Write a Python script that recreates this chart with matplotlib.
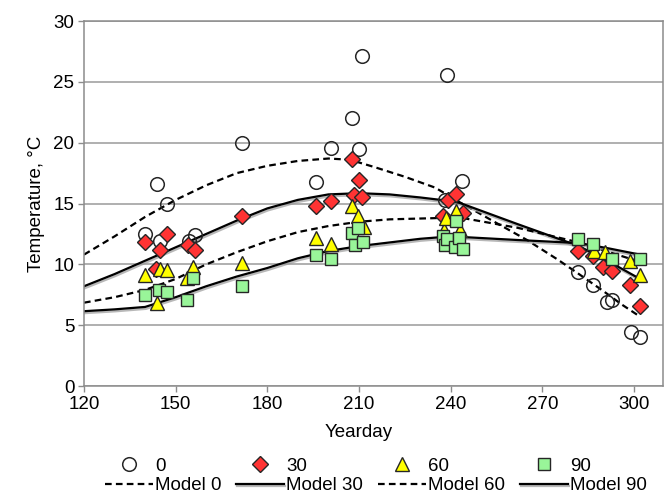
import matplotlib
matplotlib.use("Agg")
import matplotlib.pyplot as plt
import matplotlib.patheffects as pe

plt.rcParams['font.family'] = ['Liberation Sans', 'DejaVu Sans']
plt.rcParams['font.size'] = 13.5

# Observed temperatures by depth (cm): yearday, temperature
obs0_day = [140.0, 144.0, 144.9, 147.2, 154.5, 156.3, 171.8, 195.8, 200.8, 207.8,
            209.9, 210.9, 238.0, 238.9, 243.8, 281.8, 286.7, 291.1, 292.7, 299.0, 302.0]
obs0_temp = [12.5, 16.6, 11.9, 14.95, 11.9, 12.4, 19.95, 16.75, 19.55, 22.0,
             19.45, 27.1, 15.25, 25.6, 16.85, 9.4, 8.3, 6.9, 7.05, 4.45, 4.05]

obs30_day = [140.0, 143.6, 144.9, 147.1, 154.0, 156.3, 171.8, 195.9, 200.9, 207.8,
             208.3, 210.1, 211.0, 237.6, 239.0, 241.8, 244.1, 281.8, 286.7, 290.0,
             292.7, 298.7, 302.0]
obs30_temp = [11.8, 9.6, 11.2, 12.5, 11.6, 11.2, 13.95, 14.8, 15.2, 18.65,
              15.7, 16.9, 15.5, 14.0, 15.3, 15.75, 14.2, 11.1, 10.7, 9.8,
              9.45, 8.3, 6.55]

obs60_day = [140.0, 144.0, 144.9, 147.1, 153.8, 155.8, 171.8, 195.9, 200.8, 207.8,
             209.8, 211.5, 237.8, 238.5, 241.9, 243.0, 287.0, 290.5, 298.6, 302.0]
obs60_temp = [9.1, 6.8, 9.65, 9.55, 8.85, 9.75, 10.15, 12.2, 11.65, 14.8,
              14.0, 13.1, 12.85, 13.8, 14.4, 12.8, 11.1, 11.0, 10.3, 9.1]

obs90_day = [140.0, 144.6, 147.1, 153.8, 155.8, 171.8, 195.8, 200.8, 207.8, 208.6,
             209.8, 211.2, 237.6, 238.1, 238.9, 241.4, 241.9, 242.8, 243.9, 281.8,
             286.7, 292.8, 302.0]
obs90_temp = [7.45, 7.9, 7.75, 7.1, 8.85, 8.2, 10.75, 10.45, 12.55, 11.6,
              12.95, 11.85, 12.3, 11.6, 12.05, 11.45, 13.6, 12.15, 11.3, 12.05,
              11.7, 10.42, 10.42]

# Modelled temperatures
model0_day = [120, 130, 140, 150, 160, 170, 180, 190, 200, 207, 215, 225, 235, 243,
              255, 265, 275, 282, 290, 296, 302]
model0_temp = [10.8, 12.3, 13.9, 15.3, 16.5, 17.5, 18.1, 18.5, 18.7, 18.6, 18.0, 17.2,
               16.3, 15.1, 13.4, 12.0, 10.4, 9.2, 7.8, 6.7, 5.7]

model30_day = [120, 130, 140, 150, 160, 170, 180, 190, 200, 210, 220, 230, 240, 243,
               262, 282, 292, 302]
model30_temp = [8.2, 9.2, 10.3, 11.4, 12.5, 13.6, 14.6, 15.3, 15.75, 15.85, 15.75,
                15.5, 15.2, 15.05, 13.3, 11.5, 10.2, 8.8]

model60_day = [120, 130, 140, 150, 160, 170, 180, 190, 200, 210, 220, 235, 243,
               262, 282, 292, 302]
model60_temp = [6.85, 7.3, 7.9, 8.8, 10.0, 11.0, 11.9, 12.65, 13.15, 13.5, 13.7,
                13.8, 13.85, 13.0, 11.8, 11.0, 10.2]

model90_day = [120, 130, 140, 150, 160, 170, 180, 190, 200, 210, 220, 230, 240,
               262, 282, 292, 302]
model90_temp = [6.15, 6.3, 6.5, 7.3, 8.2, 9.0, 9.7, 10.5, 11.1, 11.5, 11.8, 12.1,
                12.3, 12.0, 11.75, 11.3, 10.8]

x_ticks = [120, 150, 180, 210, 240, 270, 300]
y_ticks = [0, 5, 10, 15, 20, 25, 30]

grey = '#8c8c8c'
edge = '#262626'

fig = plt.figure(figsize=(6.64, 5.01), dpi=100)
ax = fig.add_axes([0.1265, 0.2295, 0.8720, 0.7285])

for y in y_ticks:
    ax.axhline(y, color='#9a9a9a', lw=1.1, zorder=0.5)

shadow = [pe.SimpleLineShadow(offset=(0.6, -1.4), shadow_color='#9a9a9a', alpha=0.7),
          pe.Normal()]
lw = 1.6
dash = (3.0, 1.9)

h_m0, = ax.plot(model0_day, model0_temp, color='black', lw=lw, dashes=dash,
                label='Model 0', zorder=2)
h_m30, = ax.plot(model30_day, model30_temp, color='black', lw=lw,
                 path_effects=shadow, label='Model 30', zorder=2)
h_m60, = ax.plot(model60_day, model60_temp, color='black', lw=lw, dashes=dash,
                 label='Model 60', zorder=2)
h_m90, = ax.plot(model90_day, model90_temp, color='black', lw=lw,
                 path_effects=shadow, label='Model 90', zorder=2)

h0, = ax.plot(obs0_day, obs0_temp, ls='none', marker='o', ms=9.8, mfc='none',
              mec=edge, mew=1.1, label='0', zorder=3)
h30, = ax.plot(obs30_day, obs30_temp, ls='none', marker='D', ms=8.6,
               mfc='#ff3333', mec=edge, mew=1.0, label='30', zorder=4)
h60, = ax.plot(obs60_day, obs60_temp, ls='none', marker='^', ms=10.2, mfc='#ffff00',
               mec=edge, mew=1.0, label='60', zorder=5)
h90, = ax.plot(obs90_day, obs90_temp, ls='none', marker='s', ms=8.4,
               mfc='#99f599', mec=edge, mew=1.0, label='90', zorder=6)

ax.set_xlim(120, 309.5)
ax.set_ylim(0, 30)
ax.set_xticks(x_ticks)
ax.set_yticks(y_ticks)
for s in ax.spines.values():
    s.set_color(grey)
    s.set_linewidth(1.1)
ax.tick_params(axis='both', direction='out', length=4, width=1.0, color=grey,
               labelsize=13.5, labelcolor='black', pad=3)

ax.set_xlabel('Yearday', fontsize=13.5)
ax.xaxis.set_label_coords(0.475, -0.105)
ax.set_ylabel('Temperature, °C', fontsize=13.5, labelpad=6)

handles = [h0, h_m0, h30, h_m30, h60, h_m60, h90, h_m90]
fig.legend(handles=handles, labels=[h.get_label() for h in handles], ncol=4,
           loc='lower center', bbox_to_anchor=(0.566, -0.02), frameon=False,
           handlelength=2.56, handletextpad=0.1, columnspacing=0.8,
           labelspacing=0.12, fontsize=13.5, numpoints=1)

fig.savefig('out.png', dpi=100)
